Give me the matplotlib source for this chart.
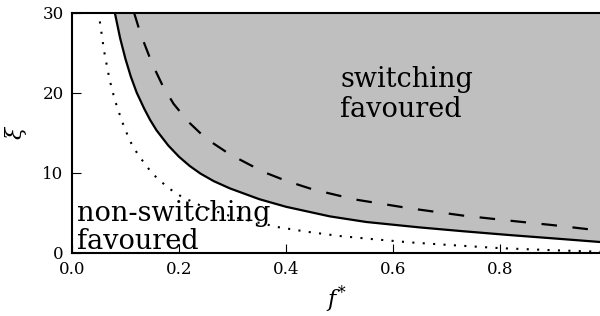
import matplotlib
matplotlib.use("Agg")
import matplotlib.pyplot as plt

plt.rcParams["font.family"] = "DejaVu Serif"
plt.rcParams["mathtext.fontset"] = "dejavuserif"

# boundary curves (f*, xi)
f_solid = [0.080, 0.090, 0.100, 0.110, 0.121, 0.135, 0.146, 0.158, 0.180, 0.200, 0.220,
           0.240, 0.265, 0.295, 0.350, 0.400, 0.482, 0.550, 0.650, 0.730, 0.819, 0.900, 0.987]
xi_solid = [30.0, 26.8, 24.2, 22.0, 20.0, 18.0, 16.6, 15.3, 13.4, 12.0, 10.85,
            9.9, 8.95, 8.05, 6.7, 5.75, 4.55, 3.85, 3.17, 2.7, 2.21, 1.8, 1.35]

f_dash = [0.116, 0.127, 0.136, 0.150, 0.170, 0.190, 0.217, 0.250, 0.295, 0.358,
          0.400, 0.451, 0.530, 0.632, 0.731, 0.820, 0.900, 0.971, 0.987]
xi_dash = [30.0, 27.6, 26.0, 23.6, 20.8, 18.6, 16.4, 14.3, 12.3, 10.1,
           9.0, 7.9, 6.65, 5.55, 4.65, 4.0, 3.45, 2.9, 2.8]

f_dot = [0.052, 0.060, 0.070, 0.080, 0.093, 0.108, 0.124, 0.150, 0.180, 0.205, 0.250,
         0.300, 0.386, 0.439, 0.500, 0.560, 0.632, 0.700, 0.800, 0.900, 0.987]
xi_dot = [28.9, 25.2, 21.7, 19.1, 16.5, 14.0, 12.2, 9.9, 8.1, 7.0, 5.6,
          4.5, 3.2, 2.63, 2.1, 1.72, 1.3, 1.0, 0.58, 0.32, 0.13]

x_ticks = [0.0, 0.2, 0.4, 0.6, 0.8]
y_ticks = [0, 10, 20, 30]

fig = plt.figure(figsize=(6, 3.16), dpi=100)
ax = fig.add_axes([0.12, 0.2, 0.88, 0.76])

ax.fill_between(f_solid, xi_solid, 30, color="#bfbfbf", lw=0, zorder=1)
ax.plot(f_solid, xi_solid, color="black", lw=1.6, zorder=3)
ax.plot(f_dash, xi_dash, color="black", lw=1.6, ls=(0, (7, 7)), zorder=3)
ax.plot(f_dot, xi_dot, color="black", lw=1.5, ls=(0, (1, 4)), zorder=3)

ax.text(0.501, 20.7, "switching", fontsize=19.5, ha="left", va="baseline", zorder=4)
ax.text(0.501, 17.0, "favoured", fontsize=19.5, ha="left", va="baseline", zorder=4)
ax.text(0.0097, 4.0, "non-switching", fontsize=19.5, ha="left", va="baseline", zorder=4)
ax.text(0.0097, 0.43, "favoured", fontsize=19.5, ha="left", va="baseline", zorder=4)

ax.set_xlim(0, 0.987)
ax.set_ylim(0, 30)
ax.set_xticks(x_ticks)
ax.set_yticks(y_ticks)
ax.tick_params(direction="in", length=6.5, width=0.8, labelsize=12, pad=6)
ax.spines["right"].set_visible(False)
for s in ["left", "bottom", "top"]:
    ax.spines[s].set_linewidth(1.5)

ax.set_xlabel(r"$f^{*}$", fontsize=16, labelpad=4)
ax.set_ylabel(r"$\xi$", fontsize=16, labelpad=10)

fig.savefig("out.png", dpi=100)
